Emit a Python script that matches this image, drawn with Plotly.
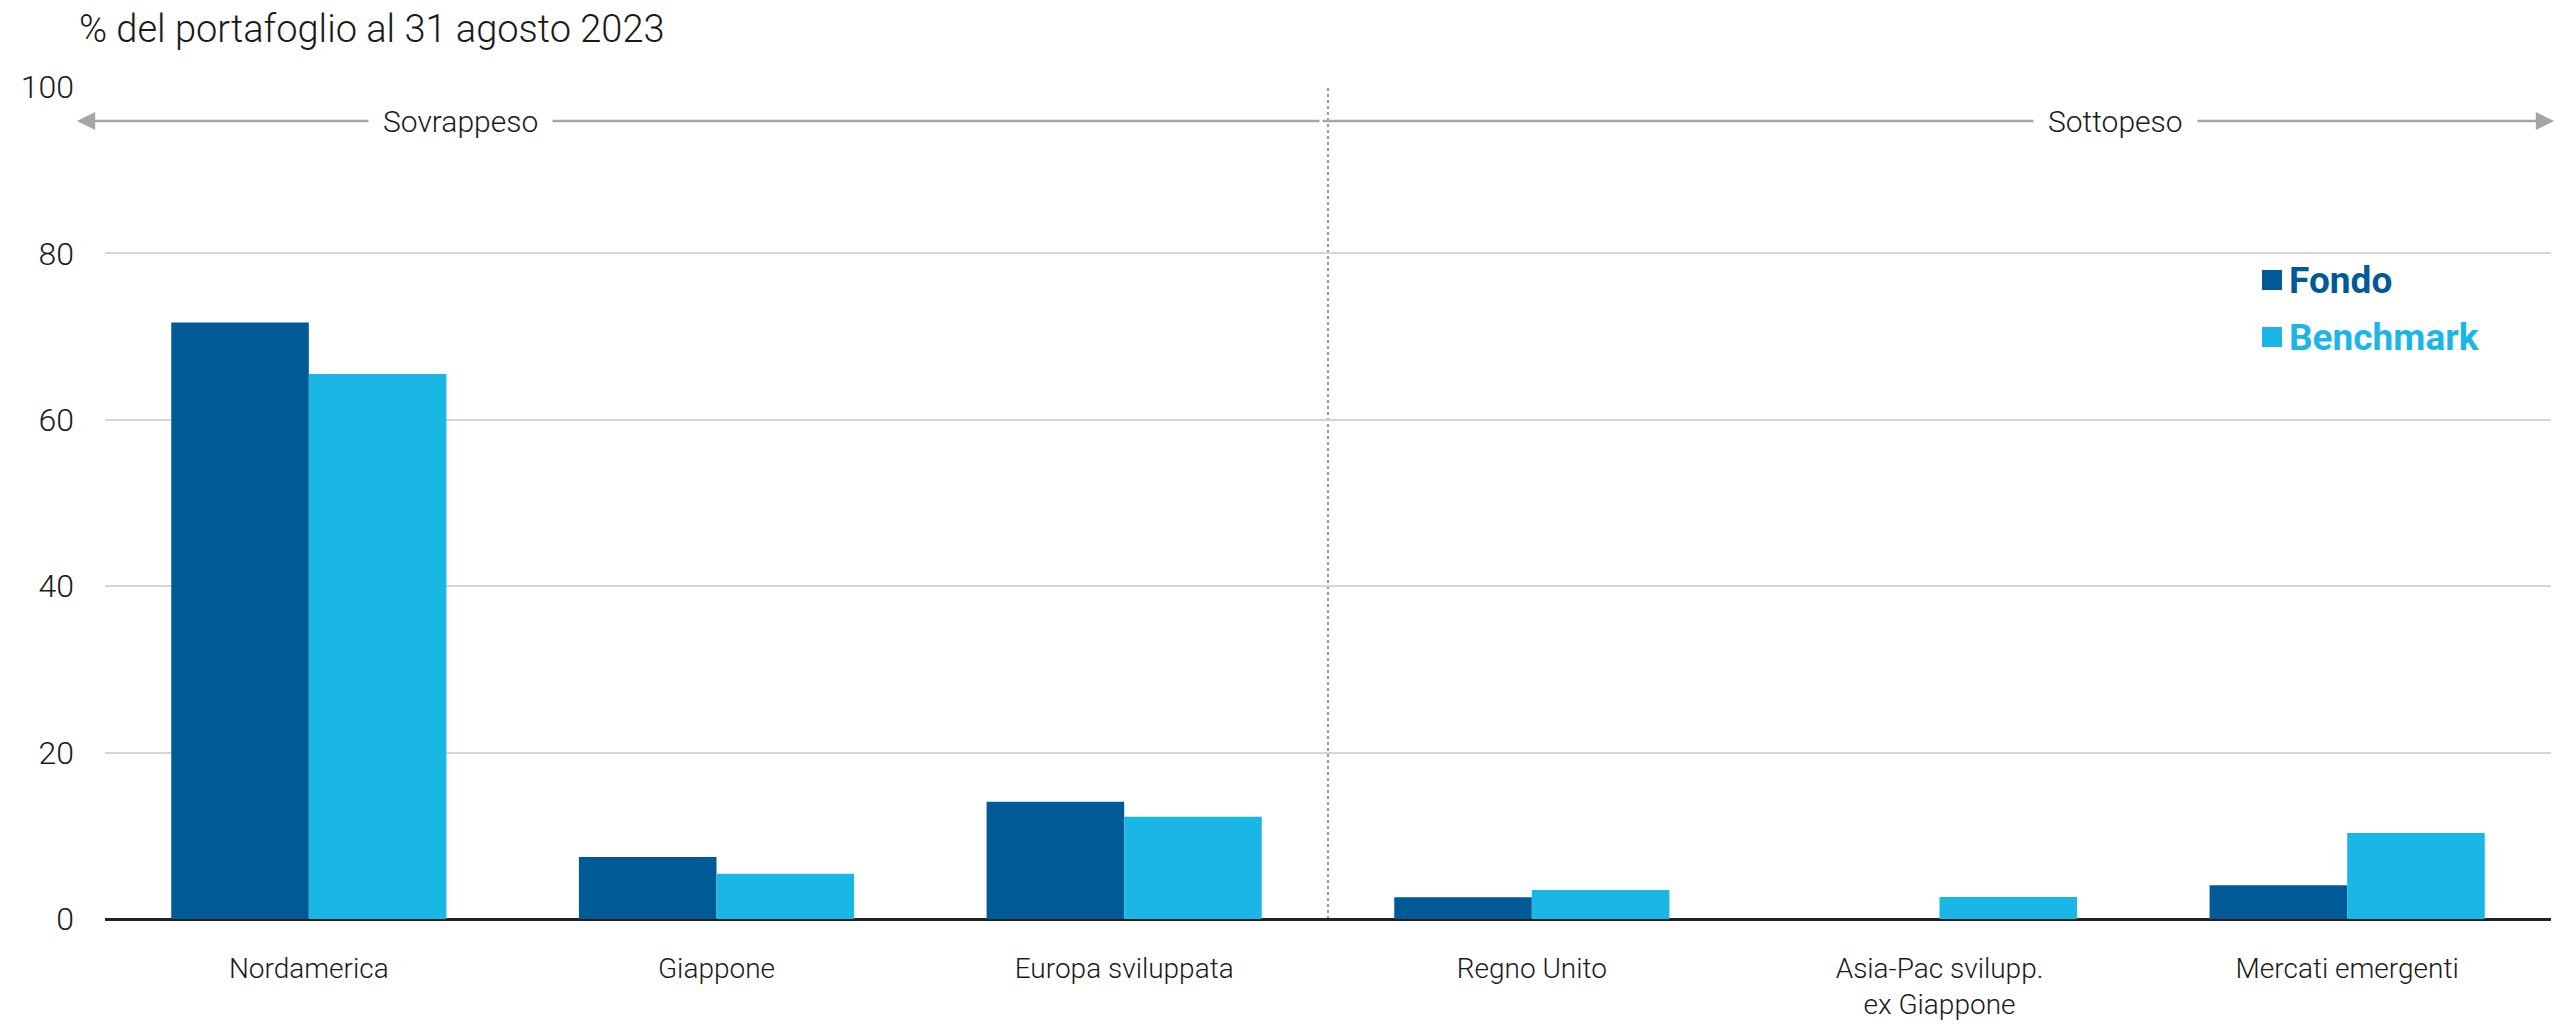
import plotly.graph_objects as go

categories = ["Nordamerica", "Giappone", "Europa sviluppata", "Regno Unito",
              "Asia-Pac svilupp.<br>ex Giappone", "Mercati emergenti"]
fondo = [71.7, 7.45, 14.1, 2.6, 0.0, 4.05]
benchmark = [65.5, 5.45, 12.3, 3.5, 2.65, 10.35]
y_ticks = [0, 20, 40, 60, 80, 100]

C_FONDO = "#005a96"
C_BENCH = "#1ab7e6"
FONT = "Roboto, Liberation Sans Narrow, sans-serif"
TXT = "#1a1a1a"

W, H = 2567, 1026
ML, MR, MT, MB = 105, 16, 87, 107
PW = W - ML - MR
PH = H - MT - MB

def px_to_paper_x(px):
    return (px - ML) / PW

def px_to_val_y(py):
    return (H - MB - py) / PH * 100

fig = go.Figure()
fig.add_trace(go.Bar(x=categories, y=fondo, name="Fondo", marker_color=C_FONDO,
                     marker_line_width=0, showlegend=False))
fig.add_trace(go.Bar(x=categories, y=benchmark, name="Benchmark", marker_color=C_BENCH,
                     marker_line_width=0, showlegend=False))

shapes = []
shapes.append(dict(type="line", xref="x", yref="y", x0=2.5, x1=2.5, y0=0, y1=100,
                   line=dict(color="#9a9a9a", width=2, dash="dot"), layer="below"))
for py, col in [(280, C_FONDO), (337, C_BENCH)]:
    shapes.append(dict(type="rect", xref="paper", yref="y",
                       xsizemode="pixel", ysizemode="pixel",
                       xanchor=px_to_paper_x(2272), yanchor=px_to_val_y(py),
                       x0=-10, x1=10, y0=-10, y1=10,
                       fillcolor=col, line_width=0))

annotations = []
arrow_y = px_to_val_y(121)
div_px = 1321
left_tip, right_tip = 77, 2554
for tip in (left_tip, right_tip):
    annotations.append(dict(xref="paper", yref="y", x=px_to_paper_x(tip), y=arrow_y,
                            ax=div_px - tip, ay=0, text="", showarrow=True,
                            arrowhead=2, arrowsize=1.4, arrowwidth=2.6,
                            arrowcolor="#a6a6a6", standoff=0))
for txt, cx in [("Sovrappeso", 460), ("Sottopeso", 2115)]:
    annotations.append(dict(xref="paper", yref="y", x=px_to_paper_x(cx), y=arrow_y,
                            xanchor="center", yanchor="middle",
                            text=txt, showarrow=False, bgcolor="white", borderpad=14,
                            font=dict(family=FONT, size=30, color=TXT, weight=300)))
for txt, col, py in [("<b>Fondo</b>", C_FONDO, 280), ("<b>Benchmark</b>", C_BENCH, 337)]:
    annotations.append(dict(xref="paper", yref="y", x=px_to_paper_x(2287), y=px_to_val_y(py),
                            xanchor="left", yanchor="middle", text=txt, showarrow=False,
                            font=dict(family=FONT, size=37, color=col)))
annotations.append(dict(xref="paper", yref="paper", x=px_to_paper_x(77), y=(H - MB - 29) / PH,
                        xanchor="left", yanchor="middle", showarrow=False,
                        text="% del portafoglio al 31 agosto 2023",
                        font=dict(family=FONT, size=38, color=TXT, weight=300)))

fig.update_layout(
    width=W, height=H,
    margin=dict(l=ML, r=MR, t=MT, b=MB),
    paper_bgcolor="white", plot_bgcolor="white",
    barmode="group", bargap=0.325, bargroupgap=0,
    font=dict(family=FONT, size=30, color=TXT),
    shapes=shapes, annotations=annotations,
    showlegend=False,
)
fig.update_xaxes(showgrid=False, ticks="", showline=False, automargin=False,
                 tickfont=dict(family=FONT, size=28, color=TXT, weight=300),
                 ticklabelstandoff=30, zeroline=False)
fig.update_yaxes(range=[0, 100], tickvals=y_ticks, showgrid=True, gridcolor="#d6d6d6",
                 gridwidth=2, zeroline=True, zerolinecolor="#222222", zerolinewidth=3,
                 ticks="", showline=False, ticklabelstandoff=30, automargin=False,
                 tickfont=dict(family=FONT, size=32, color=TXT, weight=300))

fig.write_html("out.html")
